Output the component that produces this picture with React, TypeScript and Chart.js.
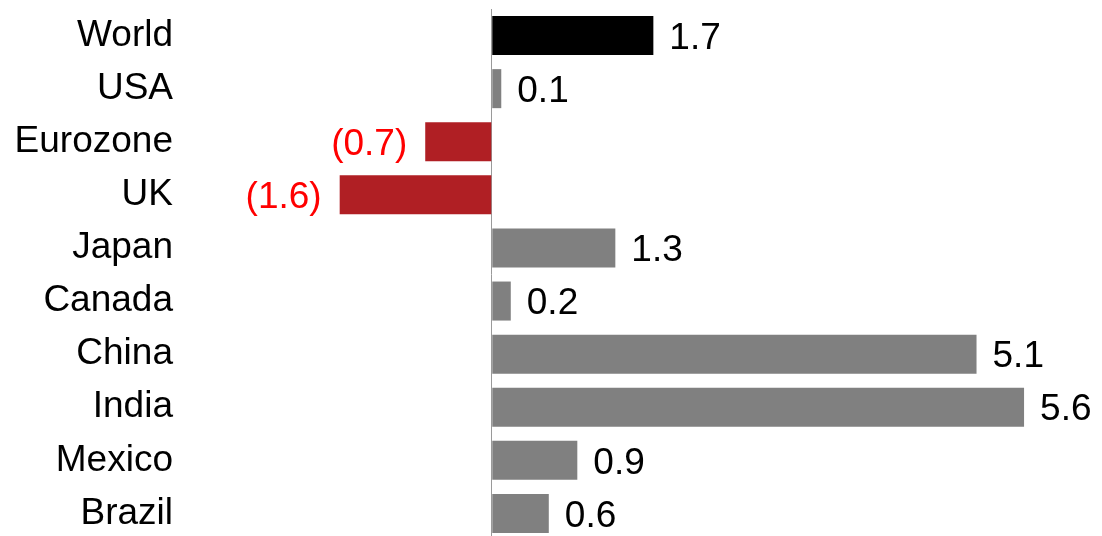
import React, { useEffect, useRef } from "react";
import { Chart, registerables } from "chart.js";

Chart.register(...registerables);

const categories = ["World", "USA", "Eurozone", "UK", "Japan", "Canada", "China", "India", "Mexico", "Brazil"];
const values = [1.7, 0.1, -0.7, -1.6, 1.3, 0.2, 5.1, 5.6, 0.9, 0.6];
const barColors = ["#000000", "#808080", "#B01F24", "#B01F24", "#808080", "#808080", "#808080", "#808080", "#808080", "#808080"];

const FONT = "'Liberation Sans', Arial, sans-serif";
const FONT_SIZE = 37;

const fmt = (v: number) => (v < 0 ? `(${Math.abs(v).toFixed(1)})` : v.toFixed(1));

const valueLabels = {
  id: "valueLabels",
  afterDatasetsDraw(chart: any) {
    const ctx = chart.ctx;
    const meta = chart.getDatasetMeta(0);
    ctx.save();
    ctx.font = `${FONT_SIZE}px ${FONT}`;
    ctx.textBaseline = "alphabetic";
    meta.data.forEach((bar: any, i: number) => {
      const v = values[i];
      const y = bar.y + 0.358 * FONT_SIZE;
      if (v < 0) {
        ctx.fillStyle = "#FF0000";
        ctx.textAlign = "right";
        ctx.fillText(fmt(v), bar.x - 18, y);
      } else {
        ctx.fillStyle = "#000000";
        ctx.textAlign = "left";
        ctx.fillText(fmt(v), bar.x + 16, y);
      }
    });
    ctx.restore();
  },
};

export default function App() {
  const ref = useRef<HTMLCanvasElement | null>(null);
  useEffect(() => {
    if (!ref.current) return;
    const chart = new Chart(ref.current, {
      type: "bar",
      data: {
        labels: categories,
        datasets: [
          {
            data: values,
            backgroundColor: barColors,
            borderWidth: 0,
            barPercentage: 0.735,
            categoryPercentage: 1,
          },
        ],
      },
      options: {
        indexAxis: "y",
        animation: false,
        responsive: true,
        maintainAspectRatio: false,
        layout: { padding: { top: 9, bottom: 0, left: 0, right: 0 } },
        plugins: { legend: { display: false }, tooltip: { enabled: false } },
        scales: {
          x: {
            min: -3.28,
            max: 6.42,
            ticks: { display: false, stepSize: 1 },
            border: { display: false },
            grid: {
              drawTicks: false,
              color: (c: any) => (c.tick && c.tick.value === 0 ? "#9a9a9a" : "rgba(0,0,0,0)"),
              lineWidth: 1,
            },
          },
          y: {
            afterFit: (scale: any) => {
              scale.width = 180;
              scale.paddingTop = 0;
              scale.paddingBottom = 0;
            },
            ticks: {
              color: "#000000",
              padding: 7,
              font: { family: FONT, size: FONT_SIZE },
            },
            border: { display: false },
            grid: { display: false, drawTicks: false },
          },
        },
      },
      plugins: [valueLabels],
    });
    return () => chart.destroy();
  }, []);
  return (
    <div style={{ position: "fixed", left: 0, top: 0, width: 1102, height: 540, background: "#ffffff" }}>
      <canvas ref={ref} />
    </div>
  );
}
